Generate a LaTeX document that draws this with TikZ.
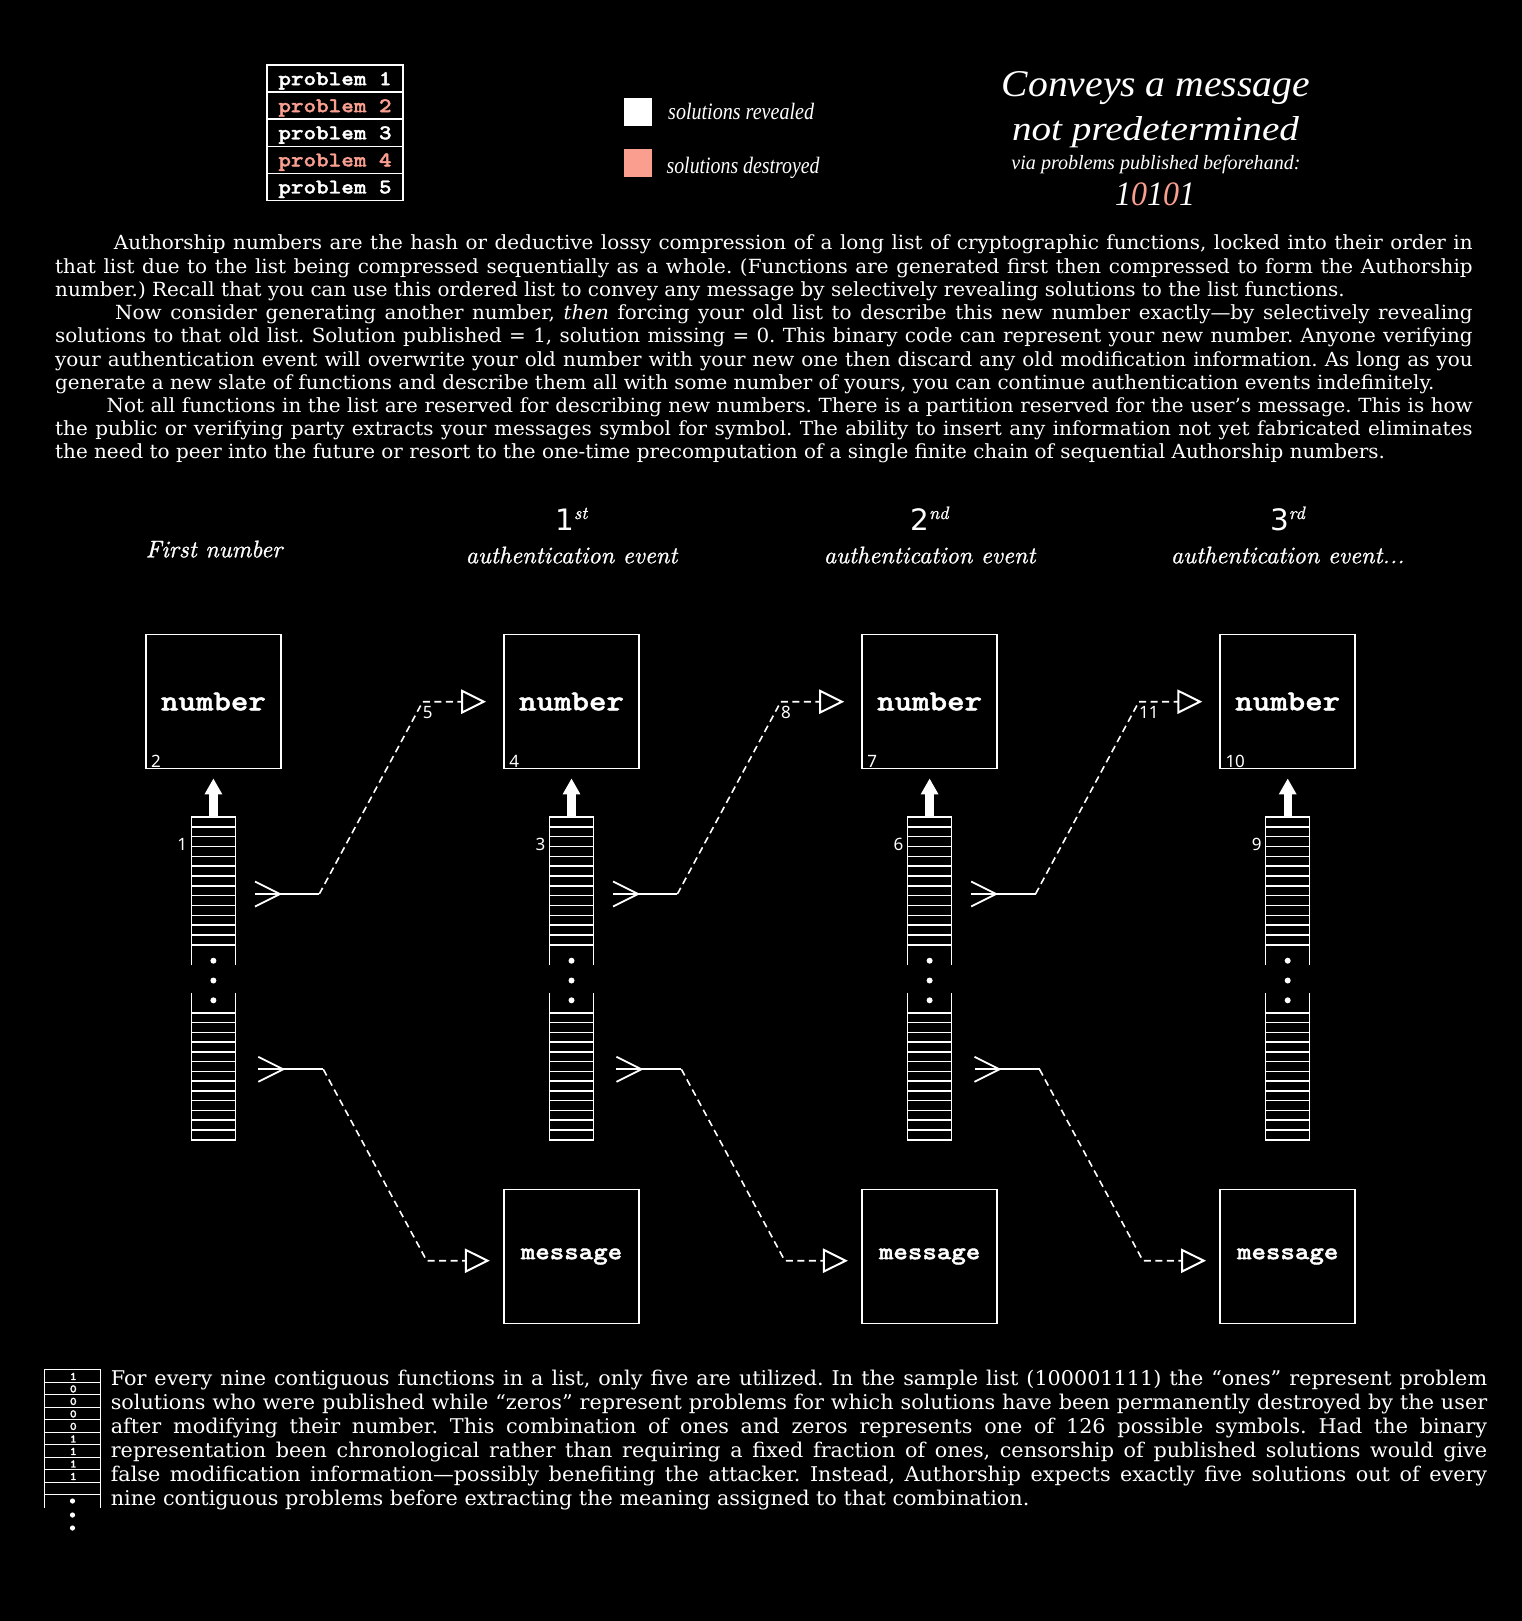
\documentclass[tikz,border=0pt]{standalone}
\usepackage{fontspec}
\usepackage{graphicx}
\usetikzlibrary{arrows.meta,calc}
\newfontfamily\bodyfont{DejaVu Serif}[FakeStretch=1.022]
\newfontfamily\codefont{lmmonolt10-bold}[Extension=.otf,FakeStretch=1.14,BoldFont=lmmonolt10-bold,BoldFeatures={FakeBold=1.6}]
\newfontfamily\hdrfont{lmroman10-italic}[Extension=.otf,BoldFont=lmroman10-italic,BoldFeatures={FakeBold=1.0}]
\newfontfamily\titlefont{Liberation Serif}
\newfontfamily\digitfont{DejaVu Sans}
\newfontfamily\tinyfont{Noto Sans}
\definecolor{salmon}{RGB}{250,158,143}
\newcommand\fs[1]{\fontsize{#1}{#1}\selectfont}
\tikzset{
  wline/.style={white, line width=1.8pt},
  stackline/.style={white, line width=1.4pt},
  dashline/.style={white, line width=1.6pt, dash pattern=on 7pt off 4.5pt},
  opentip/.style={-{Triangle[open,length=25pt,width=24.3pt,line width=2pt]}},
  bigarrow/.style={white, line width=8.3pt, -{Triangle[length=16pt,width=16.7pt]}},
  numbox/.style={draw=white, line width=1.8pt, minimum width=135pt, minimum height=134pt, inner sep=0pt, text=white, font=\codefont\bfseries\fs{29.2}},
  msgbox/.style={numbox, font=\codefont\bfseries\fs{24.2}},
  probrow/.style={draw=white, line width=1.6pt, minimum width=136pt, minimum height=27.1pt, inner sep=0pt, text height=15pt, text depth=2.1pt, font=\codefont\bfseries\fs{21}},
  boxlabel/.style={anchor=base west, inner sep=0pt, text=white, font=\tinyfont\fs{17}},
  smalllabel/.style={inner sep=0pt, text=white, font=\tinyfont\fs{17}},
  bodyline/.style={anchor=base west, inner sep=0pt, text=white, font=\bodyfont\frenchspacing\fs{19.5}},
  botline/.style={anchor=base west, inner sep=0pt, text=white, font=\bodyfont\frenchspacing\fs{20.3}},
  hdr/.style={anchor=base, inner sep=0pt, text=white, font=\hdrfont\bfseries\fs{24}},
  fitted/.style={inner sep=0pt, text=white},
}
\begin{document}
\begin{tikzpicture}[x=1pt,y=-1pt]
\fill[black] (0,0) rectangle (1522,1621);
\useasboundingbox (0,0) rectangle (1522,1621);

% problem table
\node[probrow, text=white]  (p1) at (335,78.65)  {problem 1};
\node[probrow, text=salmon] (p2) at (335,105.75) {problem 2};
\node[probrow, text=white]  (p3) at (335,132.85) {problem 3};
\node[probrow, text=salmon] (p4) at (335,159.95) {problem 4};
\node[probrow, text=white]  (p5) at (335,187.05) {problem 5};

% legend
\fill[white]  (623.5,98.5) rectangle (651.5,126.5);
\fill[salmon] (623.5,149) rectangle (651.5,177);
\node[fitted, anchor=base west] (lg1) at (668,120) {\resizebox{145.8pt}{16.3pt}{\titlefont\itshape solutions revealed}};
\node[fitted, anchor=base west] (lg2) at (666.4,173.3) {\resizebox{153pt}{16.3pt}{\titlefont\itshape solutions destroyed}};

% title
\node[fitted, anchor=base] (t1) at (1155.8,96.7) {\resizebox{308pt}{25pt}{\titlefont\itshape Conveys a message}};
\node[fitted, anchor=base] (t2) at (1155.5,140.5) {\resizebox{287pt}{24pt}{\titlefont\itshape not predetermined}};
\node[fitted, anchor=base] (t3) at (1156,169.3) {\resizebox{289pt}{14.3pt}{\titlefont\itshape via problems published beforehand:}};
\node[fitted, anchor=base] (t4) at (1155,206) {\resizebox{80pt}{22.7pt}{\titlefont\itshape 1\textcolor{salmon}{0}1\textcolor{salmon}{0}1}};

% body text
\node[bodyline] (b1) at (55,250) {\makebox[1417.5pt][s]{\hspace*{58.7pt}Authorship numbers are the hash or deductive lossy compression of a long list of cryptographic functions, locked into their order in}};
\node[bodyline] (b2) at (55,273.2) {\makebox[1417.5pt][s]{that list due to the list being compressed sequentially as a whole. (Functions are generated first then compressed to form the Authorship}};
\node[bodyline] (b3) at (55,296.4) {number.) Recall that you can use this ordered list to convey any message by selectively revealing solutions to the list functions.};
\node[bodyline] (b4) at (55,319.6) {\makebox[1417.5pt][s]{\hspace*{60pt}Now consider generating another number, \textit{then} forcing your old list to describe this new number exactly—by selectively revealing}};
\node[bodyline] (b5) at (55,342.8) {\makebox[1417.5pt][s]{solutions to that old list. Solution published = 1, solution missing = 0. This binary code can represent your new number. Anyone verifying}};
\node[bodyline] (b6) at (55,366) {\makebox[1417.5pt][s]{your authentication event will overwrite your old number with your new one then discard any old modification information. As long as you}};
\node[bodyline] (b7) at (55,389.2) {generate a new slate of functions and describe them all with some number of yours, you can continue authentication events indefinitely.};
\node[bodyline] (b8) at (55,412.4) {\makebox[1417.5pt][s]{\hspace*{51.5pt}Not all functions in the list are reserved for describing new numbers. There is a partition reserved for the user’s message. This is how}};
\node[bodyline] (b9) at (55,435.6) {\makebox[1417.5pt][s]{the public or verifying party extracts your messages symbol for symbol. The ability to insert any information not yet fabricated eliminates}};
\node[bodyline] (b10) at (55,458.8) {the need to peer into the future or resort to the one-time precomputation of a single finite chain of sequential Authorship numbers.};

% headers
\node[hdr] (h0) at (214,557.3) {First number};
\node[hdr] (h1) at (571.5,563.3) {authentication event};
\node[hdr] (h2) at (929.6,563.3) {authentication event};
\node[hdr] (h3) at (1287.7,563.3) {authentication event...};
\node[fitted, anchor=base] (o1) at (571.5,530) {\digitfont\fs{29.5}1\hspace{-0.5pt}\raisebox{11pt}{\hdrfont\bfseries\fs{18}st}};
\node[fitted, anchor=base] (o2) at (929.6,530) {\digitfont\fs{29.5}2\hspace{-0.5pt}\raisebox{11pt}{\hdrfont\bfseries\fs{18}nd}};
\node[fitted, anchor=base] (o3) at (1287.7,530) {\digitfont\fs{29.5}3\hspace{-0.5pt}\raisebox{11pt}{\hdrfont\bfseries\fs{18}rd}};

% columns
\foreach \i/\sl/\bl in {1/1/2, 2/3/4, 3/6/7, 4/9/10}{
  \pgfmathsetmacro\cx{213.4+358.1*(\i-1)}
  \node[numbox] (n\i) at (\cx,701.5) {number};
  \node[boxlabel] (nl\i) at ([xshift=6pt,yshift=2pt]n\i.south west) {\bl};
  \node[inner sep=0pt, minimum width=43.6pt, minimum height=148pt, anchor=north] (su\i) at (\cx,817) {};
  \node[inner sep=0pt, minimum width=43.6pt, minimum height=146.7pt, anchor=south] (sd\i) at (\cx,1140) {};
  \draw[stackline] (su\i.south west) -- (su\i.north west) -- (su\i.north east) -- (su\i.south east);
  \foreach \k in {1,...,13}{
    \draw[stackline] ($(su\i.north west)+(0,9.83*\k)$) -- ++(43.6,0);
  }
  \draw[stackline] (sd\i.north west) -- (sd\i.south west) -- (sd\i.south east) -- (sd\i.north east);
  \foreach \k in {0,...,12}{
    \draw[stackline] ($(sd\i.north west)+(0,20+9.75*\k)$) -- ++(43.6,0);
  }
  \fill[white] (\cx,960.7) circle (3pt);
  \fill[white] (\cx,980.5) circle (3pt);
  \fill[white] (\cx,1000.3) circle (3pt);
  \draw[bigarrow] (su\i.north) -- ([yshift=-9pt]n\i.south);
  \node[smalllabel, anchor=east] (sl\i) at ([xshift=-4pt,yshift=-27pt]su\i.north west) {\sl};
}
\foreach \i in {2,3,4}{
  \pgfmathsetmacro\cx{213.4+358.1*(\i-1)}
  \node[msgbox] (m\i) at (\cx,1256.5) {message};
}

% connectors
\foreach \k/\b/\lab in {0/2/5, 1/3/8, 2/4/11}{
  \pgfmathsetmacro\dx{358.1*\k}
  \coordinate (cu\k) at (255+\dx,894);
  \coordinate (bu\k) at (319.3+\dx,894);
  \coordinate (ku\k) at (422.7+\dx,701.7);
  \coordinate (eu\k) at ([xshift=-17pt]n\b.west);
  \draw[wline] ($(cu\k)+(0,-12.5)$) -- ++(25,12.5) -- ++(-25,12.5);
  \draw[wline] (cu\k) -- (bu\k);
  \draw[dashline, opentip] (bu\k) -- (ku\k) -- (ku\k -| eu\k);
  \node[smalllabel, anchor=north west] (kl\k) at ([xshift=0pt,yshift=-4pt]ku\k) {\lab};
  \coordinate (cd\k) at (258.3+\dx,1069.3);
  \coordinate (bd\k) at (323.3+\dx,1069.3);
  \coordinate (kd\k) at (426.7+\dx,1260.7);
  \coordinate (ed\k) at ([xshift=-13.3pt]m\b.west);
  \draw[wline] ($(cd\k)+(0,-12.5)$) -- ++(25,12.5) -- ++(-25,12.5);
  \draw[wline] (cd\k) -- (bd\k);
  \draw[dashline, opentip] (bd\k) -- (kd\k) -- (kd\k -| ed\k);
}

% mini list
\node[inner sep=0pt, minimum width=55.6pt, minimum height=137.6pt, anchor=north west] (ml) at (44.7,1369.7) {};
\draw[stackline, line width=1.2pt] (ml.south west) -- (ml.north west) -- (ml.north east) -- (ml.south east);
\foreach \d [count=\k from 1] in {1,0,0,0,0,1,1,1,1}{
  \draw[stackline, line width=1.2pt] ($(ml.north west)+(0,12.5*\k)$) -- ++(55.6,0);
  \node[inner sep=0pt, text=white, font=\codefont\bfseries\fs{11.5}] (md\k) at ($(ml.north west)+(28.6,12.5*\k-5.8)$) {\d};
}
\draw[stackline, line width=1.2pt] ($(ml.north west)+(0,125)$) -- ++(55.6,0);
\fill[white] (72.5,1501) circle (2.6pt);
\fill[white] (72.5,1515) circle (2.6pt);
\fill[white] (72.5,1528) circle (2.6pt);

% bottom text
\node[botline] (c1) at (110.6,1385.7) {\makebox[1376.4pt][s]{For every nine contiguous functions in a list, only five are utilized. In the sample list (100001111) the “ones” represent problem}};
\node[botline] (c2) at (110.6,1409.7) {\makebox[1376.4pt][s]{solutions who were published while “zeros” represent problems for which solutions have been permanently destroyed by the user}};
\node[botline] (c3) at (110.6,1433.7) {\makebox[1376.4pt][s]{after modifying their number. This combination of ones and zeros represents one of 126 possible symbols. Had the binary}};
\node[botline] (c4) at (110.6,1457.7) {\makebox[1376.4pt][s]{representation been chronological rather than requiring a fixed fraction of ones, censorship of published solutions would give}};
\node[botline] (c5) at (110.6,1481.7) {\makebox[1376.4pt][s]{false modification information—possibly benefiting the attacker. Instead, Authorship expects exactly five solutions out of every}};
\node[botline] (c6) at (110.6,1505.7) {nine contiguous problems before extracting the meaning assigned to that combination.};
\end{tikzpicture}
\end{document}
